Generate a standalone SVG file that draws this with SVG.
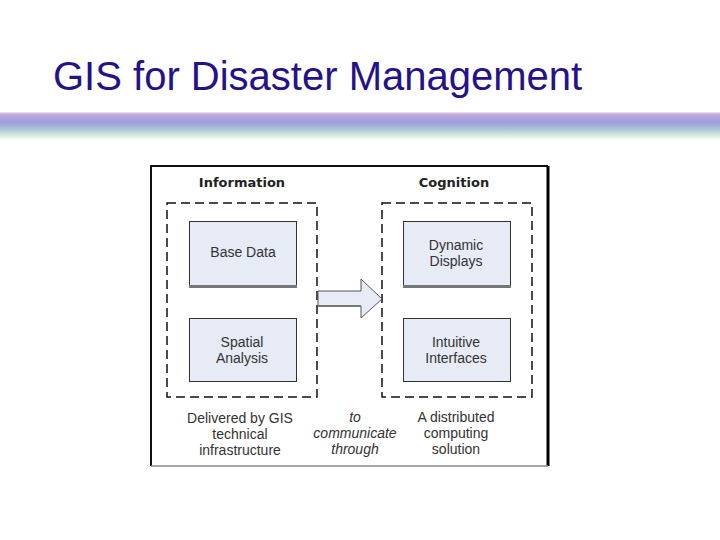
<svg xmlns="http://www.w3.org/2000/svg" width="720" height="540" viewBox="0 0 720 540">
<defs>
<linearGradient id="band" x1="0" y1="0" x2="0" y2="1">
<stop offset="0" stop-color="#f4e6f4"/>
<stop offset="0.08" stop-color="#c6aad8"/>
<stop offset="0.35" stop-color="#9d9ce2"/>
<stop offset="0.6" stop-color="#a9c2d6"/>
<stop offset="0.8" stop-color="#cfe6dc"/>
<stop offset="1" stop-color="#ffffff"/>
</linearGradient>
<style>
.title{font-family:"Liberation Sans",Arial,sans-serif;font-size:40px;fill:#25118a}
.hdr{font-family:"DejaVu Sans",Verdana,sans-serif;font-size:13px;font-weight:bold;fill:#222;text-anchor:middle}
.lbl{font-family:"Liberation Sans",Arial,sans-serif;font-size:14px;fill:#333;text-anchor:middle}
.it{font-style:italic}
.box{fill:#e6ebf5;stroke:#333;stroke-width:1}
.shadow{fill:none;stroke:#777;stroke-width:3}
.dash{fill:none;stroke:#111;stroke-width:1.5;stroke-dasharray:9,5}
</style>
</defs>
<rect width="720" height="540" fill="#fff"/>
<text class="title" x="53" y="90">GIS for Disaster Management</text>
<rect x="0" y="112" width="720" height="28" fill="url(#band)"/>

<g id="frame">
<rect x="151" y="166" width="397" height="300" fill="#fff" stroke="none"/>
<path d="M151,466 V166 H548" fill="none" stroke="#111" stroke-width="2"/>
<path d="M548,166 V466" fill="none" stroke="#000" stroke-width="3"/>
<path d="M151,466 H548" fill="none" stroke="#888" stroke-width="1.5"/>
</g>

<g id="information">
<text class="hdr" x="242" y="187">Information</text>
<rect class="dash" x="167" y="203" width="150" height="194"/>
</g>
<g id="cognition">
<text class="hdr" x="454" y="187">Cognition</text>
<rect class="dash" x="382" y="203" width="150" height="194"/>
</g>

<g id="base-data">
<rect class="box" x="189.5" y="221.5" width="107" height="65"/>
<line class="shadow" x1="189" y1="286.5" x2="297" y2="286.5"/>
<text class="lbl" x="243" y="257">Base Data</text>
</g>
<g id="spatial-analysis">
<rect class="box" x="189.5" y="318.5" width="107" height="63"/>
<text class="lbl" x="242" y="347">Spatial</text>
<text class="lbl" x="242" y="363">Analysis</text>
</g>
<g id="dynamic-displays">
<rect class="box" x="403.5" y="221.5" width="107" height="65"/>
<line class="shadow" x1="403" y1="286.5" x2="511" y2="286.5"/>
<text class="lbl" x="456" y="250">Dynamic</text>
<text class="lbl" x="456" y="266">Displays</text>
</g>
<g id="intuitive-interfaces">
<rect class="box" x="403.5" y="318.5" width="107" height="63"/>
<text class="lbl" x="456" y="347">Intuitive</text>
<text class="lbl" x="456" y="363">Interfaces</text>
</g>

<g id="connectors">
<path d="M318,291 H361 V279 L382,299 L361,318 V306 H318 Z" fill="#e6ebf5" stroke="#555" stroke-width="1"/>
<line x1="318" y1="306" x2="361" y2="306" stroke="#777" stroke-width="2"/>
</g>

<g id="captions">
<text class="lbl" x="240" y="423">Delivered by GIS</text>
<text class="lbl" x="240" y="439">technical</text>
<text class="lbl" x="240" y="455">infrastructure</text>
<text class="lbl it" x="355" y="422">to</text>
<text class="lbl it" x="355" y="438">communicate</text>
<text class="lbl it" x="355" y="454">through</text>
<text class="lbl" x="456" y="422">A distributed</text>
<text class="lbl" x="456" y="438">computing</text>
<text class="lbl" x="456" y="454">solution</text>
</g>
</svg>
